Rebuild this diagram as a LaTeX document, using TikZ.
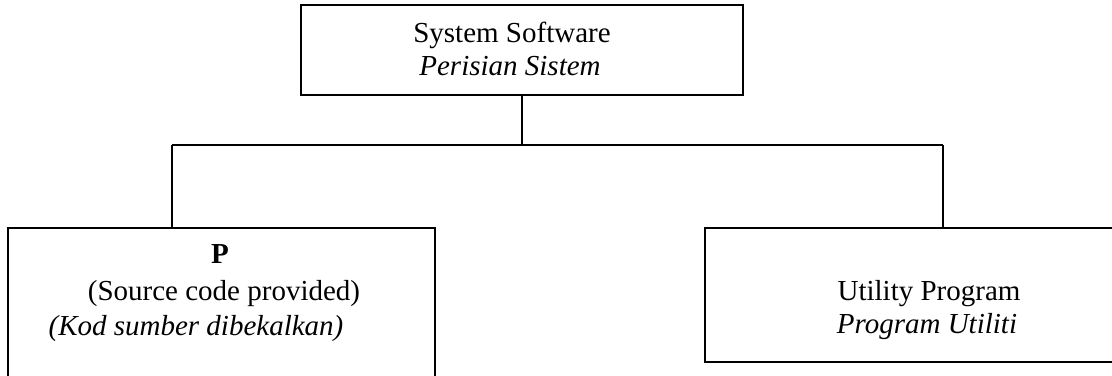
\documentclass[tikz,border=0pt]{standalone}
\usepackage{fontspec}
\setmainfont{Liberation Serif}
\begin{document}
\begin{tikzpicture}[x=0.5pt,y=-0.5pt,
  box/.style={draw=black,line width=1pt,rectangle,inner sep=0pt},
  conn/.style={draw=black,line width=1pt},
  lbl/.style={anchor=base,inner sep=0pt,font=\fontsize{14.5}{16}\selectfont}]
\useasboundingbox (0,0) rectangle (1112,375);
\clip (0,0) rectangle (1112,375);
% boxes
\node[box,minimum width=221pt,minimum height=45pt] (top) at (522,50) {};
\node[box,minimum width=213.5pt,minimum height=78.5pt] (lbox) at (221.5,306.5) {};
\node[box,minimum width=207.5pt,minimum height=67pt] (rbox) at (912.5,295) {};
% connectors
\coordinate (j) at (522,145);
\coordinate (lc) at (172,145);
\coordinate (rc) at (943,145);
\draw[conn] (top.south) -- (j);
\draw[conn] (lc) -- (rc);
\draw[conn] (lc) -- (lc |- lbox.north);
\draw[conn] (rc) -- (rc |- rbox.north);
% labels
\node[lbl] (t1) at (512,42) {System Software};
\node[lbl] (t2) at (510,75) {\itshape Perisian Sistem};
\node[lbl] (l1) at (220,263) {\bfseries P};
\node[lbl] (l2) at (224,300) {(Source code provided)};
\node[lbl] (l3) at (196,335) {\itshape (Kod sumber dibekalkan)};
\node[lbl] (r1) at (929,300) {Utility Program};
\node[lbl] (r2) at (927,333) {\itshape Program Utiliti};
\end{tikzpicture}
\end{document}
